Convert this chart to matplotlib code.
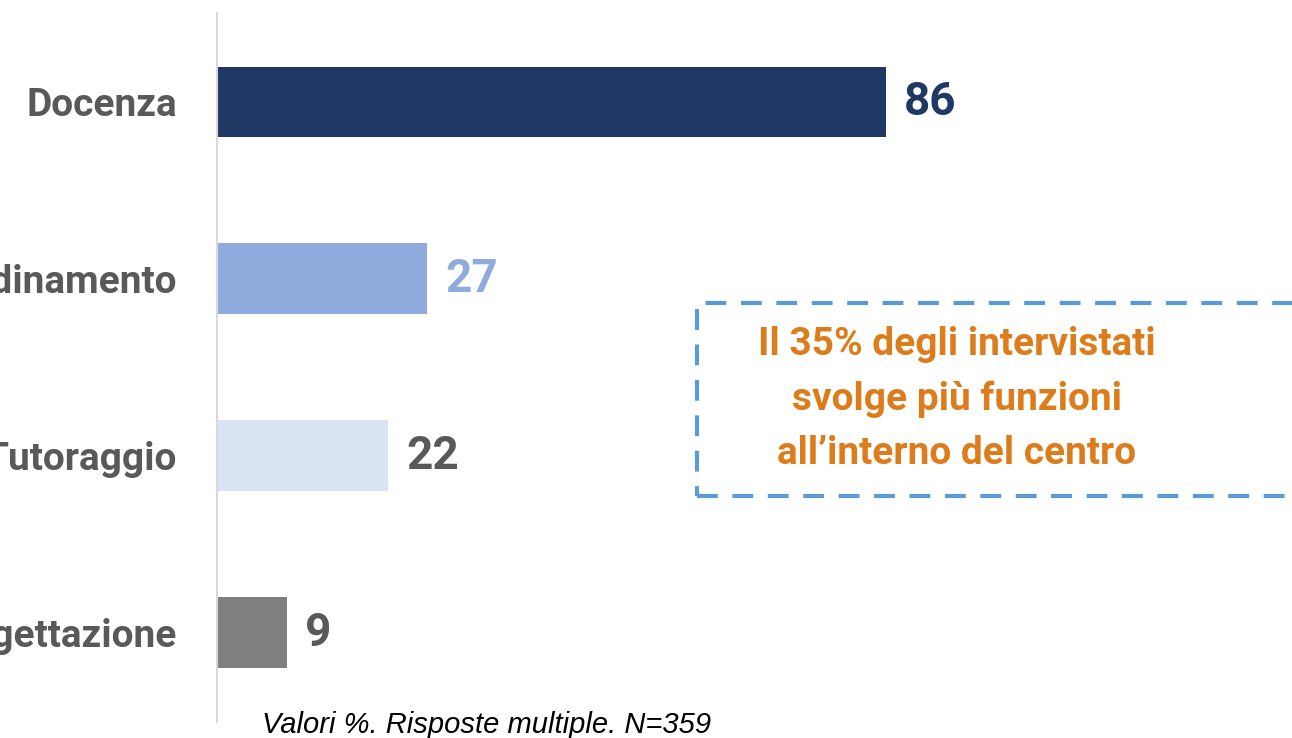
import matplotlib
matplotlib.use('Agg')
import matplotlib.pyplot as plt
from matplotlib import font_manager
from matplotlib.patches import Rectangle

# dati
categorie = ['Docenza', 'Coordinamento', 'Tutoraggio', 'Progettazione']
valori = [86, 27, 22, 9]
colori_barre = ['#203864', '#8FAADC', '#DAE3F3', '#7F7F7F']
colori_valori = ['#203864', '#8FAADC', '#595959', '#595959']
nota_box = "Il 35% degli intervistati\nsvolge più funzioni\nall\u2019interno del centro"
nota_fonte = 'Valori %. Risposte multiple. N=359'

installati = {f.name for f in font_manager.fontManager.ttflist}
narrow = 'Liberation Sans Narrow' if 'Liberation Sans Narrow' in installati else 'Roboto'

fig = plt.figure(figsize=(12.92, 7.38), dpi=100)
ax = fig.add_axes([217 / 1292, 1 - 722 / 738, 1 - 217 / 1292, 709 / 738])

pos = list(range(len(categorie)))
ax.barh(pos, valori, height=0.40, color=colori_barre)
ax.set_xlim(0, 138.2)
ax.set_ylim(3.505, -0.503)

# etichette categorie (tagliate a sinistra come nell'originale)
ax.set_yticks(pos, categorie)
for t in ax.get_yticklabels():
    t.set_fontfamily(narrow)
    t.set_fontweight('bold')
    t.set_fontsize(28)
    t.set_color('#595959')
ax.tick_params(axis='y', length=0, pad=29)
ax.set_xticks([])

for s in ['top', 'right', 'bottom']:
    ax.spines[s].set_visible(False)
ax.spines['left'].set_color('#D9D9D9')
ax.spines['left'].set_linewidth(1.5)

# valori
for p, v, c in zip(pos, valori, colori_valori):
    ax.annotate(str(v), xy=(v, p), xytext=(13, 0), textcoords='offset points',
                ha='left', va='center', fontsize=33, fontweight='bold',
                family=narrow, color=c)

# riquadro tratteggiato
box = Rectangle((697 / 1292, 1 - 496 / 738), 0.6, (496 - 303) / 738,
                transform=fig.transFigure, fill=False, edgecolor='#5B9BD5',
                linewidth=3, linestyle=(0, (5, 3.5)), clip_on=False)
fig.patches.append(box)
fig.text(957 / 1292, 1 - 399 / 738, nota_box, ha='center', va='center',
         fontsize=28, fontweight='bold', family=narrow, color='#DD7C1B',
         linespacing=1.6)

fig.text(262 / 1292, 1 - 733 / 738, nota_fonte, ha='left', va='baseline',
         fontsize=21, style='italic', family='Liberation Sans', color='#000000')

fig.savefig('out.png', dpi=100)
